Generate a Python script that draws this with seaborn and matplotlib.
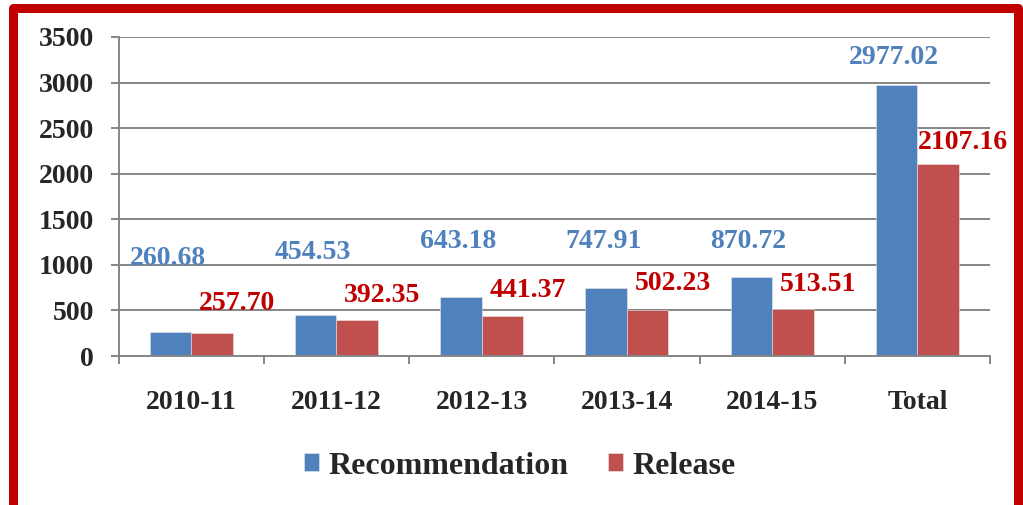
import pandas as pd
import seaborn as sns
import matplotlib.pyplot as plt
from matplotlib.patches import Rectangle

periods = ['2010-11', '2011-12', '2012-13', '2013-14', '2014-15', 'Total']
recommendation = [260.68, 454.53, 643.18, 747.91, 870.72, 2977.02]
release = [257.70, 392.35, 441.37, 502.23, 513.51, 2107.16]

# heights where the data labels sit (hand-placed in the original)
rec_label_y = [1075, 1141, 1251, 1251, 1251, 3270]
rel_label_y = [581, 669, 724, 790, 779, 2337]

df = pd.DataFrame({
    'period': periods * 2,
    'value': recommendation + release,
    'series': ['Recommendation'] * len(periods) + ['Release'] * len(periods),
})

sns.set_style('white')
plt.rcParams['font.family'] = ['Liberation Serif', 'DejaVu Serif']
plt.rcParams['font.weight'] = 'bold'

fig = plt.figure(figsize=(10.23, 5.05), dpi=100)
ax = fig.add_axes([118.5 / 1023, 1 - 356 / 505, (990 - 118.5) / 1023, (356 - 37) / 505])

sns.barplot(data=df, x='period', y='value', hue='series', ax=ax,
            palette=['#4F81BD', '#C0504D'], width=0.57, saturation=1,
            edgecolor='#e8e8e8', linewidth=0.4)

ax.set_ylim(0, 3500)
ax.set_yticks(range(0, 3501, 500))
ax.set_xlim(-0.5, len(periods) - 0.5)
ax.yaxis.grid(True, color='#868686', linewidth=1.4)
ax.set_axisbelow(True)
ax.set_xlabel('')
ax.set_ylabel('')

for s in ['top', 'right']:
    ax.spines[s].set_visible(False)
for s in ['left', 'bottom']:
    ax.spines[s].set_color('#868686')
    ax.spines[s].set_linewidth(1.4)

ax.tick_params(axis='y', left=True, length=5.5, width=1.4, color='#868686',
               pad=12, labelsize=20)
ax.tick_params(axis='x', bottom=False, pad=21, labelsize=20)
for lab in ax.get_xticklabels() + ax.get_yticklabels():
    lab.set_fontweight('bold')

# category boundary ticks below the x axis
ax.set_xticks([i - 0.5 for i in range(len(periods) + 1)], minor=True)
ax.tick_params(axis='x', which='minor', bottom=True, length=5.5, width=1.4,
               color='#868686')

bw = 0.57 / 2
for i in range(len(periods)):
    ax.annotate(f'{recommendation[i]:.2f}', xy=(i - bw / 2, rec_label_y[i]),
                xytext=(-2, 0), textcoords='offset points',
                ha='center', va='center', fontsize=20, fontweight='bold',
                color='#4F81BD')
    ax.annotate(f'{release[i]:.2f}', xy=(i + bw / 2, rel_label_y[i]),
                xytext=(18, 0), textcoords='offset points',
                ha='center', va='center', fontsize=20, fontweight='bold',
                color='#C00000')

ax.legend_.remove()
handles, labels = ax.get_legend_handles_labels()
fig.legend(handles, labels, loc='center', bbox_to_anchor=(520 / 1023, 1 - 466 / 505),
           ncol=2, frameon=False, prop={'family': 'Liberation Serif', 'weight': 'bold', 'size': 23},
           handlelength=0.47, handleheight=0.47, handletextpad=0.3, columnspacing=1.25)

# red frame around the chart
fig.patches.append(Rectangle((12.5 / 1023, 1 - 506.5 / 505),
                             (1017.5 - 12.5) / 1023, (506.5 - 7.5) / 505,
                             transform=fig.transFigure, fill=False,
                             edgecolor='#C00000', linewidth=6.5,
                             joinstyle='round', clip_on=False))

fig.savefig('out.png', dpi=100, facecolor='white')
